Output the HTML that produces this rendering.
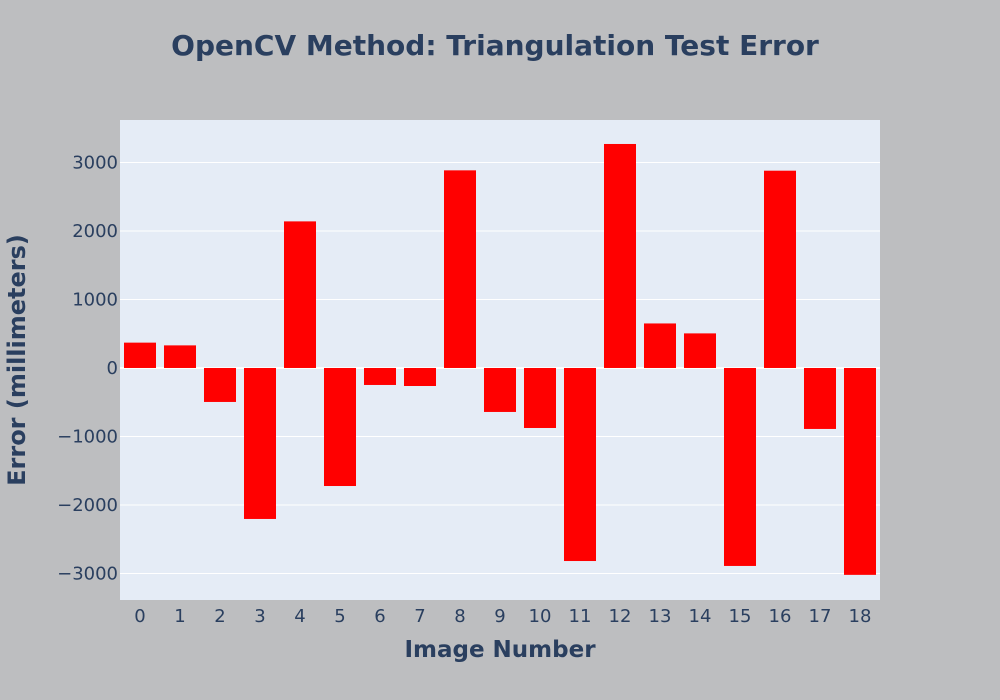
<!DOCTYPE html>
<html><head><meta charset="utf-8"><style>
body{margin:0;background:#bdbec0;}
svg{display:block;font-family:"DejaVu Sans","Liberation Sans",sans-serif;}
</style></head><body>
<svg id="chart" width="1000" height="700">
<rect width="1000" height="700" fill="#bdbec0"/>
<rect x="120" y="120" width="760" height="480" fill="#e5ecf6"/>
<g id="grid"></g><g id="bars"></g><g id="xt"></g><g id="yt"></g>
<text x="495" y="55" text-anchor="middle" font-size="28" font-weight="bold" fill="#2a3f5f">OpenCV Method: Triangulation Test Error</text>
<text x="500" y="657" text-anchor="middle" font-size="23" font-weight="bold" fill="#2a3f5f">Image Number</text>
<text transform="translate(25,360) rotate(-90)" text-anchor="middle" font-size="24" font-weight="bold" fill="#2a3f5f">Error (millimeters)</text>
</svg>
<script>
const categories=[0,1,2,3,4,5,6,7,8,9,10,11,12,13,14,15,16,17,18];
const values=[370,330,-496,-2204,2140,-1723,-248,-263,2885,-642,-876,-2818,3270,650,505,-2890,2880,-890,-3020];
const yTicks=[-3000,-2000,-1000,0,1000,2000,3000];
const yMin=-3387,yMax=3620,L=120,R=880,T=120,B=600;
const ns="http://www.w3.org/2000/svg";
const ys=v=>B-(v-yMin)/(yMax-yMin)*(B-T);
const bw=(R-L)/categories.length;
const xs=i=>L+bw*(i+0.5);
function mk(t,a,p){const e=document.createElementNS(ns,t);for(const k in a)e.setAttribute(k,a[k]);document.getElementById(p).appendChild(e);return e;}
yTicks.forEach(v=>{
 const l=mk('line',{x1:L,x2:R,y1:ys(v),y2:ys(v),stroke:'#fff','stroke-width':v===0?2:1},'grid');
 
 
 const t=mk('text',{x:L-2,y:ys(v)+6,'text-anchor':'end','font-size':18,fill:'#2a3f5f'},'yt');
 t.textContent=v<0?'\u2212'+Math.abs(v):String(v);
 
 
});
categories.forEach((c,i)=>{
 const v=values[i];
 const r=mk('rect',{x:xs(i)-bw*0.4,width:bw*0.8,y:Math.min(ys(v),ys(0)),height:Math.abs(ys(v)-ys(0)),fill:'#ff0000'},'bars');
 
 
 const t=mk('text',{x:xs(i),y:622,'text-anchor':'middle','font-size':18,fill:'#2a3f5f'},'xt');
 t.textContent=String(c);
 
 
});
</script>
</body></html>
